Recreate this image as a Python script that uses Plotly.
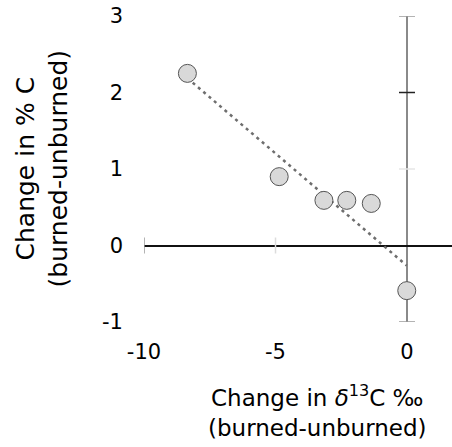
import numpy as np
import plotly.graph_objects as go

# Data
d13c_change = [-8.35, -4.86, -3.16, -2.29, -1.36, -0.01]
pctc_change = [2.25, 0.90, 0.59, 0.59, 0.55, -0.59]

x_tickvals = [-10, -5, 0]
x_ticktext = ["-10", "-5", "0"]
y_tickvals = [-1, 0, 1, 2, 3]
y_ticktext = ["-1", "0", "1", "2", "3"]

# small tick marks drawn on the crossing axis lines
vline_ticks = [3, 2, 1, -1]
vline_tick_colors = ["#9a9a9a", "#222222", "#e6e6e6", "#9a9a9a"]
hline_ticks = [-10, -5]
hline_tick_colors = ["#9a9a9a", "#dcdcdc"]

x_title = "Change in <i>δ</i><sup>13</sup>C ‰<br>(burned-unburned)"
y_title = "Change in % C<br>(burned-unburned)"

# least-squares fit line
slope, intercept = np.polyfit(d13c_change, pctc_change, 1)
fit_x = [min(d13c_change), max(d13c_change)]
fit_y = [slope * v + intercept for v in fit_x]

FONT = "DejaVu Sans"

fig = go.Figure()
fig.add_trace(go.Scatter(
    x=fit_x, y=fit_y, mode="lines",
    line=dict(color="#6e6e6e", width=2.5, dash="3px,4px"),
    hoverinfo="skip", showlegend=False,
))
fig.add_trace(go.Scatter(
    x=d13c_change, y=pctc_change, mode="markers",
    marker=dict(size=18, color="#d9d9d9", line=dict(color="#555555", width=1)),
    cliponaxis=False, showlegend=False,
))

shapes = []
for v, c in zip(vline_ticks, vline_tick_colors):
    shapes.append(dict(type="line", xref="x", yref="y", xsizemode="pixel", xanchor=0,
                       x0=-8, x1=8, y0=v, y1=v, line=dict(color=c, width=1.5), layer="above"))
for v, c in zip(hline_ticks, hline_tick_colors):
    shapes.append(dict(type="line", xref="x", yref="y", ysizemode="pixel", yanchor=0,
                       y0=-8, y1=8, x0=v, x1=v, line=dict(color=c, width=1.5), layer="above"))

fig.update_layout(
    width=452, height=447,
    margin=dict(l=144, r=0, t=16, b=125),
    paper_bgcolor="white", plot_bgcolor="white",
    font=dict(family=FONT, size=21, color="black"),
    shapes=shapes,
    xaxis=dict(range=[-10, 1.71], tickvals=x_tickvals, ticktext=x_ticktext,
               showgrid=False, showline=False, ticks="", ticklabelstandoff=15,
               zeroline=True, zerolinecolor="#8a8a8a", zerolinewidth=1.8,
               tickfont=dict(family=FONT, size=21, color="black")),
    yaxis=dict(range=[-1, 3], tickvals=y_tickvals, ticktext=y_ticktext,
               showgrid=False, showline=False, ticks="", ticklabelstandoff=20,
               zeroline=True, zerolinecolor="#111111", zerolinewidth=1.5,
               tickfont=dict(family=FONT, size=21, color="black")),
    annotations=[
        dict(text=x_title, xref="paper", yref="paper", x=0.562, y=-0.291,
             xanchor="center", yanchor="middle", showarrow=False,
             font=dict(family=FONT, size=23, color="black")),
        dict(text=y_title, xref="paper", yref="paper", x=-0.33, y=0.503,
             xanchor="center", yanchor="middle", showarrow=False, textangle=-90,
             font=dict(family=FONT, size=25, color="black")),
    ],
)

fig.write_html("out.html")
